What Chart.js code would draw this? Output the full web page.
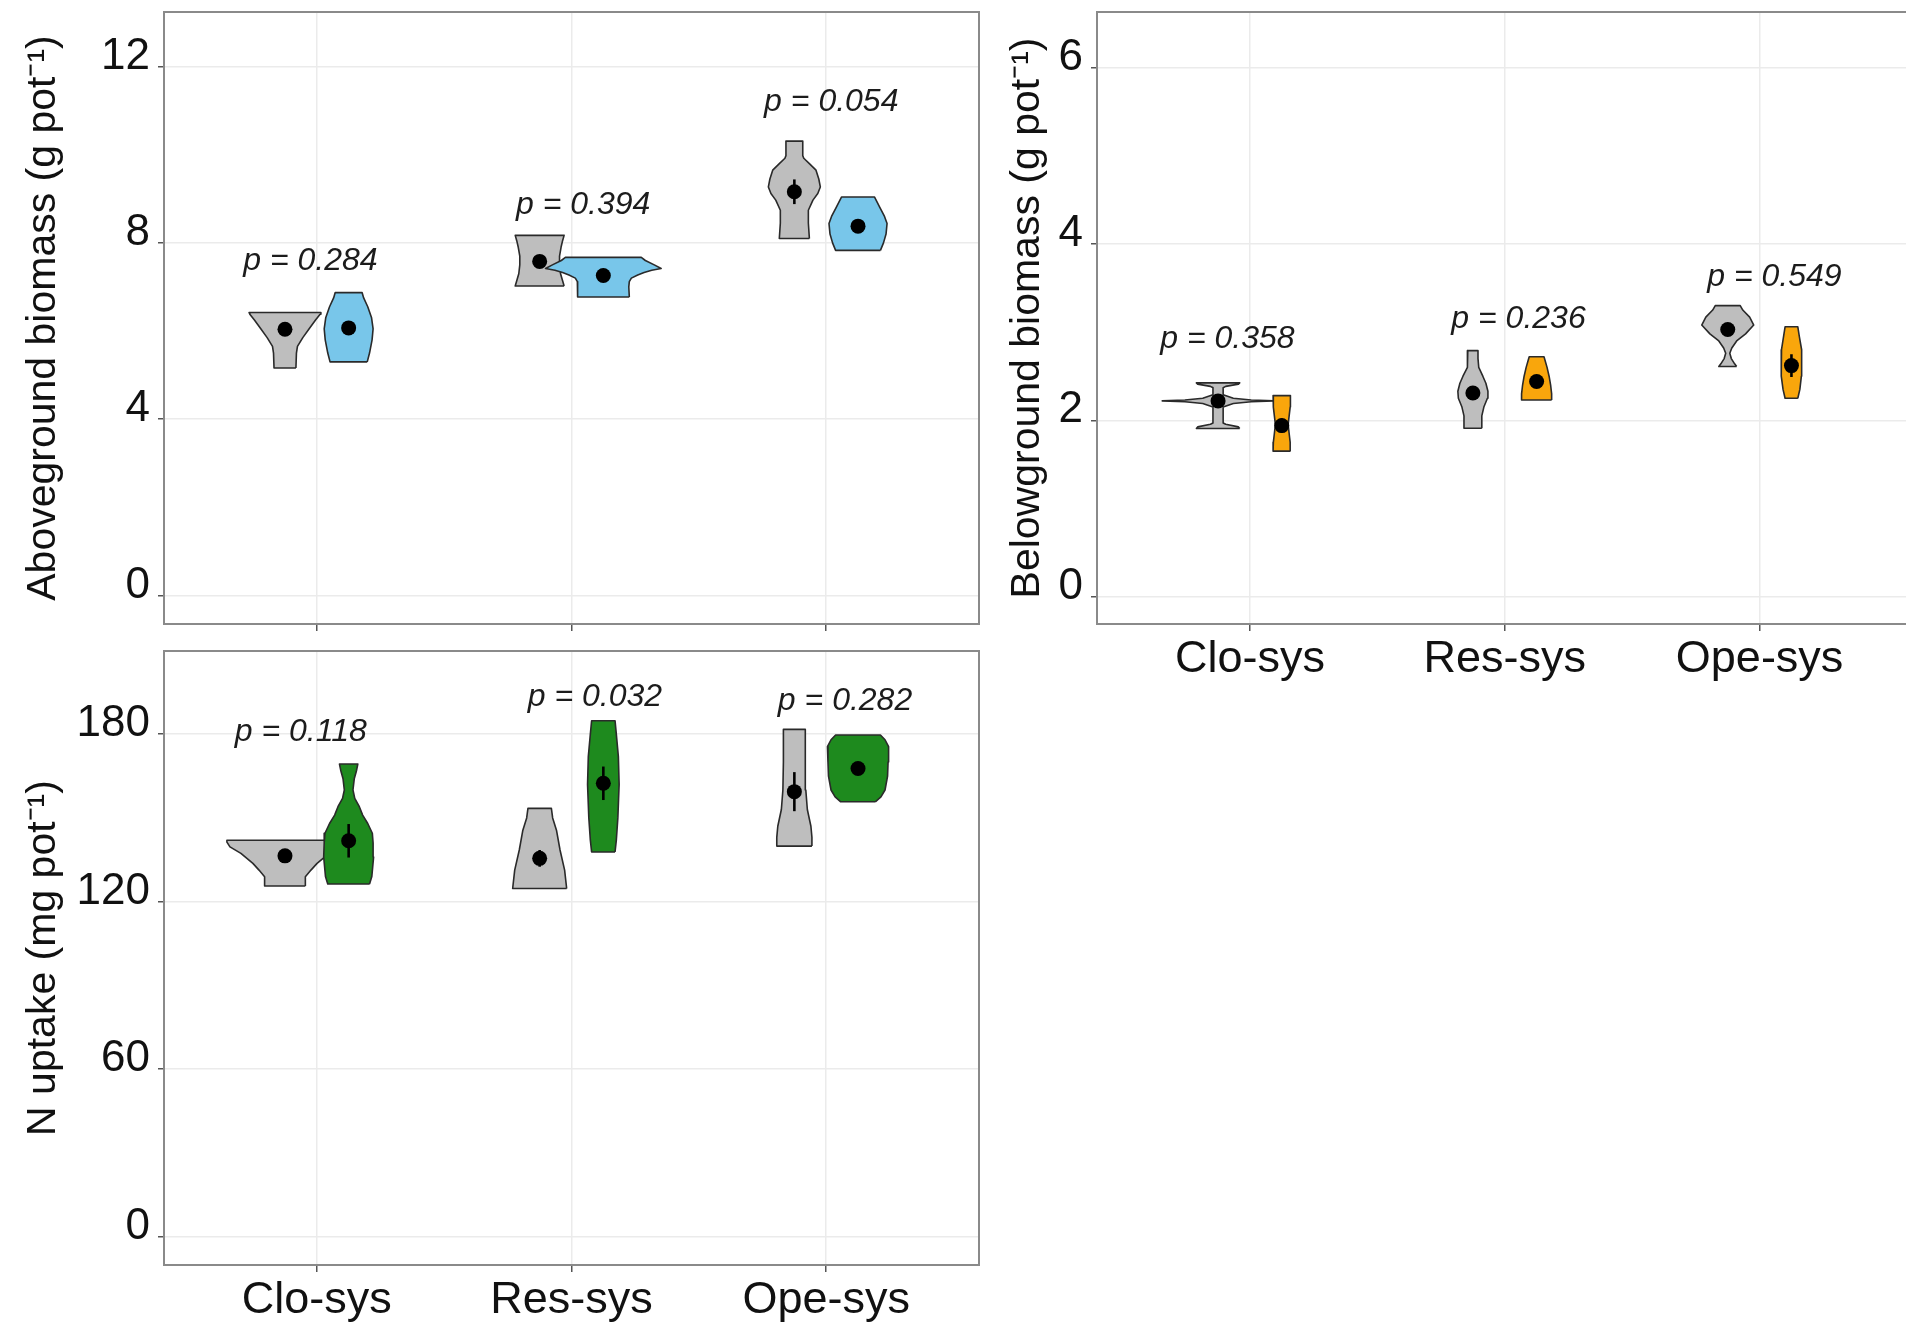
<!DOCTYPE html>
<html>
<head>
<meta charset="utf-8">
<script src="https://cdn.jsdelivr.net/npm/chart.js@4.4.1/dist/chart.umd.min.js"></script>
<style>
  html, body { margin:0; padding:0; background:#fff; width:1906px; height:1325px; overflow:hidden; position:relative; }
  canvas { position:absolute; display:block; }
</style>
</head>
<body>
<canvas id="panelA" width="990" height="640" style="left:0;top:0"></canvas>
<canvas id="panelB" width="930" height="700" style="left:990px;top:0"></canvas>
<canvas id="panelC" width="990" height="685" style="left:0;top:640px"></canvas>
<script>
// ---------------- DATA ----------------
const categories = ['Clo-sys', 'Res-sys', 'Ope-sys'];
const groupOffset = 0.125;              // dodge of the two violins around each category

// Panel A : Aboveground biomass (g pot-1)
const aboveTitle = 'Aboveground biomass (g pot\u207B\u00B9)';
const aboveTicks = [0, 4, 8, 12];
const aboveRange = [-0.65, 13.24];
const aboveP = ['0.284', '0.394', '0.054'];
const abovePX = [0.975, 2.046, 3.02];
const abovePY = [7.38, 8.66, 11.0];
const aboveCtrlMean = [6.04, 7.58, 9.16];
const aboveCtrlSE = [0.10, 0.10, 0.28];
const aboveTrtMean = [6.07, 7.26, 8.38];
const aboveTrtSE = [0.10, 0.06, 0.10];
// violin outlines: [value, half width in category units]
const aboveCtrlViolin = [
  [[5.16,.043],[5.50,.045],[5.65,.049],[5.85,.070],[6.05,.095],[6.25,.120],[6.38,.138],[6.42,.141]],
  [[7.02,.096],[7.10,.092],[7.30,.082],[7.50,.078],[7.70,.078],[7.90,.084],[8.05,.090],[8.17,.096]],
  [[8.10,.059],[8.45,.055],[8.74,.055],[8.97,.073],[9.12,.092],[9.27,.102],[9.45,.096],[9.65,.085],[9.80,.059],[9.92,.037],[9.98,.033],[10.31,.033]]
];
const aboveTrtViolin = [
  [[5.30,.073],[5.50,.082],[5.80,.092],[6.05,.096],[6.30,.090],[6.55,.075],[6.75,.059],[6.87,.053]],
  [[6.77,.102],[7.00,.100],[7.12,.102],[7.20,.110],[7.27,.135],[7.33,.160],[7.38,.190],[7.42,.227],[7.50,.200],[7.60,.165],[7.67,.149]],
  [[7.83,.088],[8.00,.100],[8.20,.110],[8.44,.114],[8.60,.104],[8.80,.086],[9.04,.065]]
];

// Panel B : Belowground biomass (g pot-1)
const belowTitle = 'Belowground biomass (g pot\u207B\u00B9)';
const belowTicks = [0, 2, 4, 6];
const belowRange = [-0.31, 6.63];
const belowP = ['0.358', '0.236', '0.549'];
const belowPX = [0.912, 2.054, 3.058];
const belowPY = [2.82, 3.05, 3.52];
const belowCtrlMean = [2.22, 2.31, 3.03];
const belowCtrlSE = [0.05, 0.08, 0.05];
const belowTrtMean = [1.94, 2.44, 2.62];
const belowTrtSE = [0.08, 0.05, 0.13];
const belowCtrlViolin = [
  [[1.907,.085],[1.925,.080],[1.955,.030],[1.970,.020],[2.150,.020],[2.190,.060],[2.210,.130],[2.220,.219],[2.230,.130],[2.250,.060],[2.290,.020],[2.370,.020],[2.385,.030],[2.410,.080],[2.424,.085]],
  [[1.91,.035],[2.05,.035],[2.15,.043],[2.25,.057],[2.33,.059],[2.42,.051],[2.50,.039],[2.60,.023],[2.70,.020],[2.79,.020]],
  [[2.61,.035],[2.64,.027],[2.70,.014],[2.76,.008],[2.82,.016],[2.90,.035],[2.98,.070],[3.08,.102],[3.17,.086],[3.25,.059],[3.30,.049]]
];
const belowTrtViolin = [
  [[1.65,.034],[1.75,.033],[1.85,.029],[1.95,.025],[2.05,.029],[2.15,.033],[2.28,.034]],
  [[2.23,.059],[2.30,.059],[2.40,.055],[2.50,.049],[2.60,.041],[2.68,.033],[2.72,.029]],
  [[2.25,.025],[2.35,.033],[2.50,.039],[2.65,.041],[2.80,.039],[2.95,.031],[3.06,.025]]
];

// Panel C : N uptake (mg pot-1)
const nTitle = 'N uptake (mg pot\u207B\u00B9)';
const nTicks = [0, 60, 120, 180];
const nRange = [-10.2, 209.8];
const nP = ['0.118', '0.032', '0.282'];
const nPX = [0.937, 2.092, 3.074];
const nPY = [177.5, 190.0, 188.5];
const nCtrlMean = [136.4, 135.5, 159.4];
const nCtrlSE = [2.0, 3.0, 7.0];
const nTrtMean = [141.8, 162.4, 167.7];
const nTrtSE = [6.0, 6.0, 2.0];
const nCtrlViolin = [
  [[125.6,.080],[128.9,.080],[131.3,.102],[133.7,.126],[137.3,.173],[139.6,.216],[141.3,.228],[142.0,.228]],
  [[124.7,.106],[131.3,.098],[138.5,.080],[145.6,.066],[150.0,.051],[153.4,.046]],
  [[139.9,.069],[143.0,.069],[147.0,.065],[153.0,.051],[160.0,.045],[170.0,.043],[181.7,.043]]
];
const nTrtViolin = [
  [[126.3,.082],[129.0,.091],[136.0,.098],[141.0,.096],[144.5,.093],[148.0,.075],[151.0,.055],[154.0,.042],[157.0,.024],[160.0,.017],[164.0,.022],[167.0,.031],[169.3,.036]],
  [[137.8,.046],[142.0,.051],[150.0,.057],[162.0,.062],[172.0,.059],[180.0,.051],[184.8,.046]],
  [[155.8,.069],[157.5,.090],[160.0,.106],[165.0,.116],[170.0,.118],[175.5,.120],[178.0,.106],[179.7,.088]]
];

// ---------------- RENDERING ----------------
const FONT = "'Liberation Sans', Arial, Helvetica, sans-serif";
const ctrlColor = '#BEBEBE';
const outline = '#2a2a2a';

function violinPoints(profile, cx) {
  const right = profile.map(([v, hw]) => ({x: cx + hw, y: v}));
  const left = profile.slice().reverse().map(([v, hw]) => ({x: cx - hw, y: v}));
  return right.concat(left, [right[0]]);
}

const borderPlugin = {
  id: 'panelBorder',
  afterDatasetsDraw(chart) {
    const {ctx, chartArea: a} = chart;
    ctx.save();
    ctx.strokeStyle = '#8a8a8a';
    ctx.lineWidth = 2;
    ctx.strokeRect(a.left, a.top, a.right - a.left, a.bottom - a.top);
    ctx.restore();
  }
};

const pLabelPlugin = {
  id: 'pLabels',
  afterDatasetsDraw(chart, args, opts) {
    const {ctx, scales: {x, y}} = chart;
    ctx.save();
    ctx.font = 'italic 32px ' + FONT;
    ctx.fillStyle = '#1c1c1c';
    ctx.textAlign = 'center';
    ctx.textBaseline = 'alphabetic';
    opts.values.forEach((p, i) => {
      ctx.fillText('p = ' + p, x.getPixelForValue(opts.xs[i]), y.getPixelForValue(opts.ys[i]));
    });
    ctx.restore();
  }
};

function zeroPad(sc) {
  sc.paddingTop = 0; sc.paddingBottom = 0; sc.paddingLeft = 0; sc.paddingRight = 0;
}

function buildPanel(id, s) {
  const seq = [];
  categories.forEach((cat, i) => {
    const c = i + 1;
    const groups = [
      {violin: s.ctrlViolin[i], mean: s.ctrlMean[i], se: s.ctrlSE[i], off: -groupOffset, color: ctrlColor},
      {violin: s.trtViolin[i], mean: s.trtMean[i], se: s.trtSE[i], off: groupOffset, color: s.color}
    ];
    groups.forEach(g => {
      seq.push({
        type: 'scatter', data: violinPoints(g.violin, c + g.off), showLine: true, fill: 'shape',
        backgroundColor: g.color, borderColor: outline, borderWidth: 1.6, pointRadius: 0, tension: 0,
        borderJoinStyle: 'round'
      });
    });
    groups.forEach(g => {
      seq.push({
        type: 'scatter', data: [{x: c + g.off, y: g.mean - g.se}, {x: c + g.off, y: g.mean + g.se}],
        showLine: true, fill: false, borderColor: '#000', borderWidth: 2.6, pointRadius: 0
      });
      seq.push({
        type: 'scatter', data: [{x: c + g.off, y: g.mean}], showLine: false,
        pointRadius: 7.5, pointBackgroundColor: '#000', pointBorderWidth: 0, pointBorderColor: '#000'
      });
    });
  });
  seq.forEach((d, k) => { d.order = seq.length - k; });

  new Chart(document.getElementById(id), {
    type: 'scatter',
    data: {datasets: seq},
    plugins: [borderPlugin, pLabelPlugin],
    options: {
      responsive: false,
      animation: false,
      events: [],
      layout: {padding: s.padding},
      plugins: {
        legend: {display: false},
        tooltip: {enabled: false},
        pLabels: {values: s.pVals, xs: s.pX, ys: s.pY}
      },
      scales: {
        x: {
          type: 'linear', min: 0.4, max: 3.6,
          afterBuildTicks: sc => { sc.ticks = categories.map((_, i) => ({value: i + 1})); },
          afterFit: sc => { sc.height = s.xHeight; zeroPad(sc); },
          grid: {color: '#EBEBEB', lineWidth: 1.5, drawTicks: true, tickLength: 7, tickColor: '#555', tickWidth: 1.5},
          border: {display: false},
          ticks: {
            display: s.showX, autoSkip: false, maxRotation: 0, minRotation: 0, padding: 6,
            color: '#111', font: {family: FONT, size: 45, lineHeight: 1},
            callback: v => categories[Math.round(v) - 1]
          }
        },
        y: {
          type: 'linear', min: s.range[0], max: s.range[1],
          afterBuildTicks: sc => { sc.ticks = s.ticks.map(v => ({value: v})); },
          afterFit: sc => { sc.width = s.yWidth; zeroPad(sc); },
          grid: {color: '#EBEBEB', lineWidth: 1.5, drawTicks: true, tickLength: 6, tickColor: '#555', tickWidth: 1.5},
          border: {display: false},
          ticks: {
            padding: 8, labelOffset: -10, color: '#111', font: {family: FONT, size: 44},
            callback: v => String(v)
          },
          title: {
            display: true, text: s.title, color: '#111',
            font: {family: FONT, size: 41, lineHeight: 1.2}, padding: {top: s.titlePad, bottom: 0}
          }
        }
      }
    }
  });
}

buildPanel('panelA', {
  title: aboveTitle, ticks: aboveTicks, range: aboveRange, color: '#78C6EA',
  ctrlViolin: aboveCtrlViolin, trtViolin: aboveTrtViolin,
  ctrlMean: aboveCtrlMean, ctrlSE: aboveCtrlSE, trtMean: aboveTrtMean, trtSE: aboveTrtSE,
  pVals: aboveP, pX: abovePX, pY: abovePY,
  padding: {top: 12, right: 11, bottom: 0, left: 0}, yWidth: 164, xHeight: 16, showX: false, titlePad: 19
});
buildPanel('panelB', {
  title: belowTitle, ticks: belowTicks, range: belowRange, color: '#F9A60C',
  ctrlViolin: belowCtrlViolin, trtViolin: belowTrtViolin,
  ctrlMean: belowCtrlMean, ctrlSE: belowCtrlSE, trtMean: belowTrtMean, trtSE: belowTrtSE,
  pVals: belowP, pX: belowPX, pY: belowPY,
  padding: {top: 12, right: 5, bottom: 0, left: 0}, yWidth: 107, xHeight: 76, showX: true, titlePad: 13
});
buildPanel('panelC', {
  title: nTitle, ticks: nTicks, range: nRange, color: '#1E8A1E',
  ctrlViolin: nCtrlViolin, trtViolin: nTrtViolin,
  ctrlMean: nCtrlMean, ctrlSE: nCtrlSE, trtMean: nTrtMean, trtSE: nTrtSE,
  pVals: nP, pX: nPX, pY: nPY,
  padding: {top: 11, right: 11, bottom: 0, left: 0}, yWidth: 164, xHeight: 60, showX: true, titlePad: 19
});
</script>
</body>
</html>
